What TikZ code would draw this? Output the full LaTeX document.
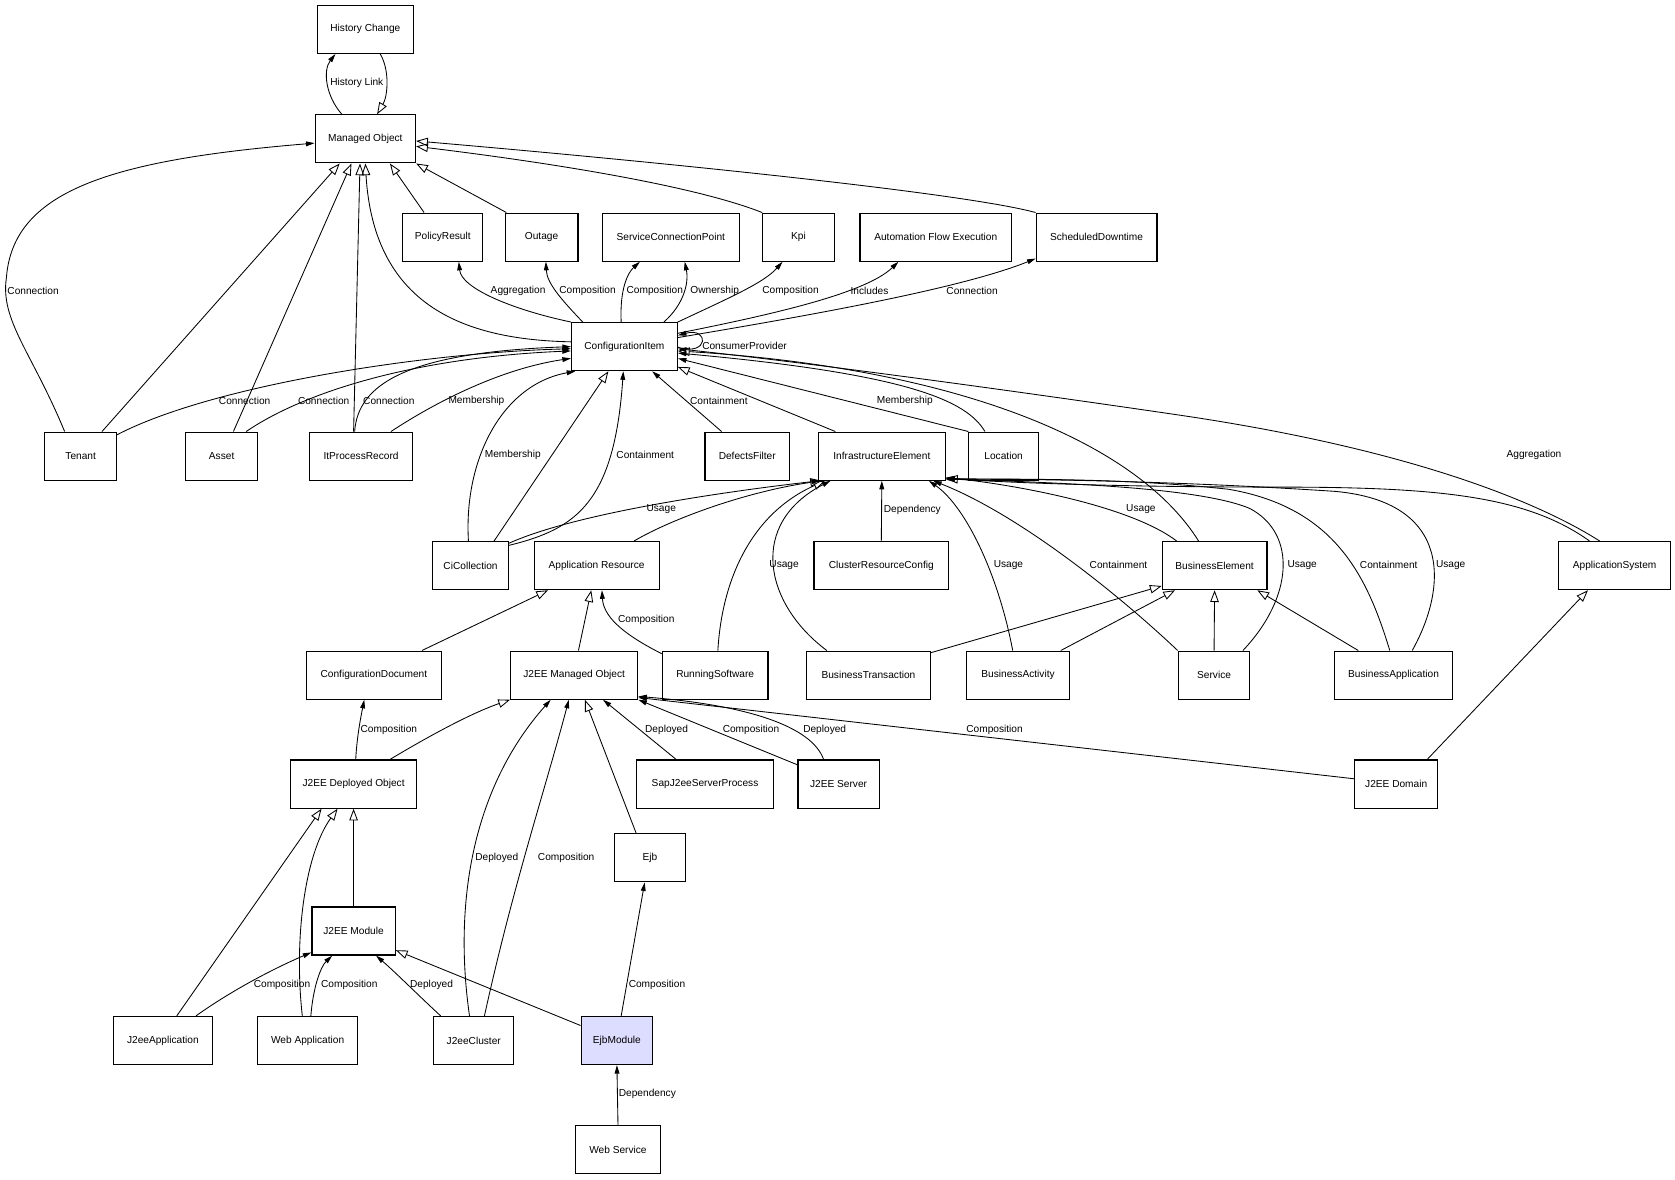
\documentclass[tikz,border=0pt]{standalone}
\usepackage{fontspec}
\setmainfont{Liberation Sans}
\usetikzlibrary{arrows.meta}
\definecolor{ejbfill}{RGB}{221,221,255}
\begin{document}
\begin{tikzpicture}[x=1pt, y=-1pt, line width=0.8pt,
  cls/.style={draw, line width=1.1pt, minimum height=45pt, inner xsep=3pt, inner ysep=2pt, font=\fontsize{9.5}{11}\selectfont},
  lbl/.style={inner sep=0pt, font=\fontsize{9.5}{11}\selectfont},
  gen/.style={-{Triangle[open, length=11pt, width=8pt]}},
  assoc/.style={-{Triangle[length=8pt, width=4.5pt]}}]
\path[use as bounding box, fill=white] (0,0) rectangle (1568,1104.6);
\foreach \n/\x/\y/\w/\t in {hc/342/27.5/90/History Change, mo/342/130/94/Managed Object,
    pr/414.5/222/75/PolicyResult, out/507/222/68/Outage, scp/628/222/128/ServiceConnectionPoint,
    kpi/747.5/222/67/Kpi, afe/876/222/142/Automation Flow Execution, sd/1026.5/222/113/ScheduledDowntime,
    ci/584.5/324.5/99/ConfigurationItem,
    ten/75.5/427/67/Tenant, ast/207.5/427/67/Asset, itpr/338/427/96/ItProcessRecord,
    df/699.5/427/79/DefectsFilter, ie/825.5/427/119/InfrastructureElement, loc/939.5/427/65/Location,
    cic/440.5/529.5/71/CiCollection, ar/558.5/529.5/117/Application Resource,
    crc/825/529.5/126/ClusterResourceConfig, be/1137/529.5/98/BusinessElement, as/1511.5/529.5/105/ApplicationSystem,
    cd/350/632/126/ConfigurationDocument, jmo/537.5/632/119/J2EE Managed Object, rs/669.5/632/99/RunningSoftware,
    bt/813/632/116/BusinessTransaction, bac/953/632/96/BusinessActivity, svc/1136.5/632/67/Service,
    bap/1304.5/632/111/BusinessApplication,
    jdo/331/734/118/J2EE Deployed Object, sjsp/660/734/128/SapJ2eeServerProcess, jsrv/785/734/76/J2EE Server,
    jdom/1307/734/78/J2EE Domain, ejb/608.5/803/67/Ejb, jm/331/871.5/78/J2EE Module,
    jap/152.5/974/93/J2eeApplication, wap/288/974/94/Web Application, jcl/443.5/974/75/J2eeCluster,
    ws/578.5/1076/79/Web Service}
  \node[cls, minimum width=\w pt] (\n) at (\x,\y) {\t};
\node[cls, fill=ejbfill, minimum width=67pt] (ejbm) at (577.5,974) {EjbModule};
\foreach \x/\y/\t [count=\i] in {334/78/History Link, 31/272/Connection, 485/272/Aggregation,
    550/272/Composition, 613/272/Composition, 669/272/Ownership, 740/272/Composition, 814/272/Includes,
    910/272/Connection, 697/324/ConsumerProvider, 229/375/Connection, 303/375/Connection,
    364/375/Connection, 446/375/Membership, 673/375/Containment, 847/375/Membership,
    480/426/Membership, 604/426/Containment, 1436/426/Aggregation, 619/477/Usage, 854/477/Dependency,
    1068/477/Usage, 734/529/Usage, 944/529/Usage, 1047/529/Containment, 1219/529/Usage,
    1300/529/Containment, 1358/529/Usage, 605/580/Composition, 364/683/Composition, 624/683/Deployed,
    703/683/Composition, 772/683/Deployed, 931/683/Composition, 465/803/Deployed, 530/803/Composition,
    264/922/Composition, 327/922/Composition, 404/922/Deployed, 615/922/Composition, 606/1024/Dependency}
  \node[lbl] (lab\i) at (\x,\y) {\t};
% Managed Object
\draw[assoc] ([xshift=-22pt]mo.north) .. controls (305,90) and (302,66) .. ([xshift=-28pt]hc.south);
\draw[gen] ([xshift=14pt]hc.south) .. controls (365,66) and (363,90) .. ([xshift=11pt]mo.north);
\draw[assoc] ([xshift=-15pt]ten.north) .. controls (30,330) and (0,300) .. (6,260) .. controls (12,180) and (100,150) .. ([yshift=-4pt]mo.west);
\draw[gen] ([xshift=20pt]ten.north) -- ([xshift=-24pt]mo.south);
\draw[gen] ([xshift=11pt]ast.north) -- ([xshift=-13pt]mo.south);
\draw[gen] ([xshift=-7pt]itpr.north) -- ([xshift=-5pt]mo.south);
\draw[gen] ([yshift=4.5pt]ci.west) .. controls (440,318) and (350,290) .. (mo.south);
\draw[gen] ([xshift=-17.5pt]pr.north) -- ([xshift=23pt]mo.south);
\draw[gen] ([xshift=-33pt]out.north) -- (mo.south east);
\draw[gen] (kpi.north west) .. controls (640,170) and (480,148) .. ([yshift=-7pt]mo.east);
\draw[gen] (sd.north west) .. controls (900,180) and (600,150) .. ([yshift=-2pt]mo.east);
% ConfigurationItem
\draw[assoc] (ci.north west) .. controls (480,290) and (432,270) .. ([xshift=15pt]pr.south);
\draw[assoc] ([xshift=-39pt]ci.north) .. controls (525,280) and (512,265) .. ([xshift=4pt]out.south);
\draw[assoc] ([xshift=-3pt]ci.north) .. controls (580,270) and (588,255) .. ([xshift=-29pt]scp.south);
\draw[assoc] ([xshift=37pt]ci.north) .. controls (640,285) and (645,265) .. ([xshift=13pt]scp.south);
\draw[assoc] (ci.north east) .. controls (680,280) and (715,265) .. ([xshift=-15pt]kpi.south);
\draw[assoc] ([yshift=12.5pt]ci.east) .. controls (720,295) and (810,275) .. ([xshift=-35pt]afe.south);
\draw[assoc] ([yshift=8.5pt]ci.east) .. controls (760,295) and (900,270) .. ([yshift=3pt]sd.south west);
\draw[assoc] ([yshift=-0.5pt]ci.east) .. controls (664,334) and (664,306) .. ([yshift=10.5pt]ci.east);
\draw[assoc] ([yshift=20pt]ten.east) .. controls (200,360) and (400,330) .. ([yshift=-2pt]ci.west);
\draw[assoc] ([xshift=23pt]ast.north) .. controls (280,370) and (380,335) .. ([yshift=-4pt]ci.west);
\draw[assoc] ([xshift=-6pt]itpr.north) .. controls (335,360) and (380,330) .. (ci.west);
\draw[assoc] ([xshift=28pt]itpr.north) .. controls (410,375) and (470,345) .. ([yshift=-11pt]ci.west);
\draw[assoc] ([xshift=-2pt]cic.north) .. controls (434,430) and (470,360) .. ([xshift=-46pt]ci.south);
\draw[gen] ([xshift=22pt]cic.north) -- ([xshift=-15pt]ci.south);
\draw[assoc] ([yshift=19pt]cic.east) .. controls (540,495) and (575,470) .. ([xshift=-1pt]ci.south);
\draw[assoc] ([xshift=-24pt]df.north) -- ([xshift=26pt]ci.south);
\draw[gen] ([xshift=-43.5pt]ie.north) -- ([yshift=-19pt]ci.east);
\draw[assoc] (loc.north west) -- ([yshift=-11pt]ci.east);
\draw[assoc] ([xshift=-17.5pt]loc.north) .. controls (905,375) and (850,350) .. ([yshift=-6pt]ci.east);
\draw[gen] ([xshift=-15pt]be.north) .. controls (1065,415) and (900,345) .. ([yshift=-4pt]ci.east);
\draw[assoc] ([xshift=-14pt]as.north) .. controls (1440,470) and (1320,420) .. (1100,388) .. controls (950,366) and (760,340) .. ([yshift=-2pt]ci.east);
% InfrastructureElement
\draw[assoc] ([yshift=21pt]cic.east) .. controls (540,480) and (680,460) .. ([xshift=-58pt]ie.south);
\draw[gen] ([xshift=35pt]ar.north) .. controls (630,485) and (700,460) .. ([xshift=-56pt]ie.south);
\draw[gen] ([xshift=2.5pt]rs.north) .. controls (676,540) and (705,480) .. ([xshift=-53pt]ie.south);
\draw[assoc] ([xshift=-39pt]bt.north) .. controls (715,565) and (700,490) .. ([xshift=-48pt]ie.south);
\draw[assoc] (crc.north) -- (ie.south);
\draw[assoc] ([xshift=-5pt]bac.north) .. controls (935,540) and (905,475) .. ([xshift=44pt]ie.south);
\draw[assoc] (svc.north west) .. controls (1040,550) and (950,480) .. ([xshift=48pt]ie.south);
\draw[assoc] ([xshift=-35.5pt]be.north) .. controls (1060,475) and (960,455) .. ([yshift=-20pt]ie.east);
\draw[assoc] ([xshift=27pt]svc.north) .. controls (1210,560) and (1215,500) .. (1170,476) .. controls (1120,455) and (980,452) .. ([yshift=-21pt]ie.east);
\draw[assoc] ([xshift=-3.5pt]bap.north) .. controls (1280,540) and (1250,475) .. (1150,458) .. controls (1050,447) and (950,449) .. ([yshift=-21pt]ie.east);
\draw[assoc] ([xshift=17.5pt]bap.north) .. controls (1355,550) and (1360,470) .. (1250,460) .. controls (1100,450) and (950,448) .. ([yshift=-22pt]ie.east);
\draw[gen] ([xshift=-23.5pt]as.north) .. controls (1430,465) and (1350,456) .. (1200,456) .. controls (1050,456) and (950,452) .. ([yshift=-21pt]ie.east);
% BusinessElement
\draw[gen] ([yshift=-2pt]bt.north east) -- ([yshift=4pt]be.south west);
\draw[gen] ([xshift=40pt]bac.north) -- ([xshift=-37pt]be.south);
\draw[gen] (svc.north) -- (be.south);
\draw[gen] ([xshift=-33pt]bap.north) -- ([xshift=40pt]be.south);
\draw[gen] ([xshift=29pt]jdom.north) -- ([xshift=-25pt]as.south);
% J2EE
\draw[gen] ([xshift=45pt]cd.north) -- ([xshift=-45.5pt]ar.south);
\draw[gen] ([xshift=4pt]jmo.north) -- ([xshift=-5pt]ar.south);
\draw[assoc] ([yshift=-3pt]rs.north west) .. controls (590,597) and (565,580) .. ([xshift=5pt]ar.south);
\draw[gen] ([xshift=34pt]jdo.north) .. controls (400,690) and (440,668) .. (jmo.south west);
\draw[assoc] ([xshift=-4pt]jcl.north) .. controls (425,850) and (440,740) .. ([xshift=-22pt]jmo.south);
\draw[assoc] ([xshift=10pt]jcl.north) .. controls (480,830) and (510,740) .. ([xshift=-5pt]jmo.south);
\draw[gen] ([xshift=-13pt]ejb.north) -- ([xshift=10pt]jmo.south);
\draw[assoc] ([xshift=-27pt]sjsp.north) -- ([xshift=27pt]jmo.south);
\draw[assoc] ([yshift=-5pt]jsrv.north west) -- (jmo.south east);
\draw[assoc] ([xshift=-14pt]jsrv.north) .. controls (760,680) and (700,660) .. ([yshift=-20pt]jmo.east);
\draw[assoc] ([yshift=5pt]jdom.west) -- ([yshift=-21pt]jmo.east);
\draw[assoc] ([xshift=2pt]jdo.north) .. controls (334,690) and (338,670) .. ([xshift=-9pt]cd.south);
\draw[gen] (jm.north) -- (jdo.south);
\draw[gen] ([xshift=13pt]jap.north) -- ([xshift=-30pt]jdo.south);
\draw[gen] ([xshift=-5pt]wap.north) .. controls (275,880) and (285,800) .. ([xshift=-15pt]jdo.south);
\draw[assoc] ([xshift=31pt]jap.north) .. controls (220,925) and (260,905) .. ([yshift=3pt]jm.south west);
\draw[assoc] ([xshift=3pt]wap.north) .. controls (293,925) and (300,905) .. ([xshift=-20pt]jm.south);
\draw[assoc] ([xshift=-31pt]jcl.north) .. controls (395,935) and (370,910) .. ([xshift=21pt]jm.south);
\draw[gen] ([yshift=14pt]ejbm.west) -- ([yshift=-18pt]jm.east);
\draw[assoc] ([xshift=4pt]ejbm.north) -- ([xshift=-5pt]ejb.south);
\draw[assoc] (ws.north) -- (ejbm.south);
\end{tikzpicture}
\end{document}
